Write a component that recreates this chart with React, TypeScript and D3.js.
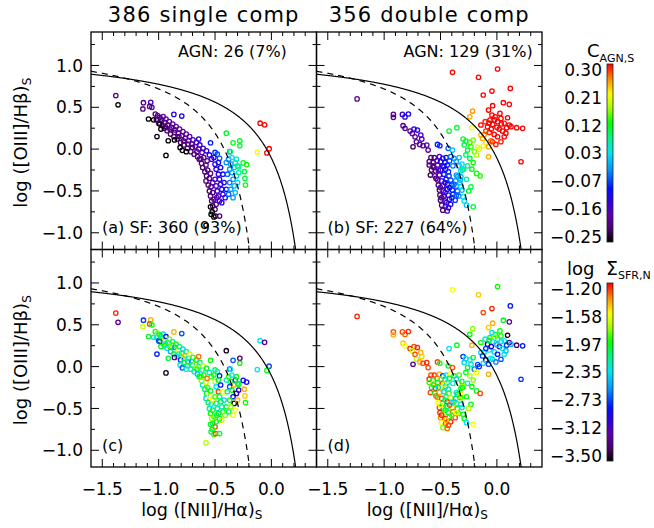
import React from 'react';
import * as d3 from 'd3';

// ---------- axis / label data ----------
const xTicksMajor = [-1.5, -1.0, -0.5, 0.0];
const xTickLabels = ['\u22121.5', '\u22121.0', '\u22120.5', '0.0'];
const yTicksMajor = [-1.0, -0.5, 0.0, 0.5, 1.0];
const yTickLabels = ['\u22121.0', '\u22120.5', '0.0', '0.5', '1.0'];
const cAgnTickLabels = ['0.30', '0.21', '0.12', '0.03', '\u22120.07', '\u22120.16', '\u22120.25'];
const sigmaTickLabels = ['\u22121.20', '\u22121.58', '\u22121.97', '\u22122.35', '\u22122.73', '\u22123.12', '\u22123.50'];
const panelTitles = ['386 single comp', '356 double comp'];
const agnLabels = ['AGN: 26 (7%)', 'AGN: 129 (31%)'];
const sfLabels = ['(a) SF: 360 (93%)', '(b) SF: 227 (64%)'];
const lowerLabels = ['(c)', '(d)'];

// colour table stops (position, colour)
const cmapPos = [0, 0.07, 0.15, 0.23, 0.3, 0.4, 0.5, 0.58, 0.67, 0.75, 0.83, 0.91, 1];
const cmapCol = ['#000000', '#48006c', '#6000aa', '#2c00e8', '#0010ff', '#0090ff', '#00e4f4', '#00f48c', '#00ff00', '#a0ff00', '#ffff00', '#ff9400', '#ff0000'];

// [log([NII]/Ha), log([OIII]/Hb), C_AGN,S, log Sigma_SFR,N]
const singleComp: number[][] = [
  [-1.38, 0.64, -0.19, -1.25], [-1.36, 0.53, -0.25, -3.2], [-1.135, 0.555, -0.19, -2.75],
  [-1.07, 0.56, -0.14, -1.45], [-1.14, 0.48, -0.19, -1.7], [-1.08, 0.51, -0.19, -1.3],
  [-1.06, 0.5, -0.18, -1.95],
  [-1.03, 0.42, -0.19, -2.0], [-1.02, 0.35, -0.21, -2.35], [-1.01, 0.4, -0.18, -1.8],
  [-1.0, 0.31, -0.2, -2.7], [-0.99, 0.38, -0.19, -1.95], [-0.98, 0.36, -0.2, -2.0],
  [-0.975, 0.34, -0.2, -2.2], [-0.965, 0.28, -0.21, -1.7], [-0.96, 0.39, -0.18, -2.4],
  [-0.95, 0.25, -0.2, -2.0], [-0.945, 0.32, -0.19, -1.6], [-0.94, 0.27, -0.2, -2.25],
  [-0.935, 0.36, -0.18, -2.9], [-0.925, 0.22, -0.21, -2.3], [-0.92, 0.29, -0.2, -2.05],
  [-0.905, 0.33, -0.18, -1.85], [-0.9, 0.24, -0.2, -1.9], [-0.895, 0.18, -0.21, -2.5],
  [-0.885, 0.26, -0.19, -1.75], [-0.875, 0.3, -0.18, -2.2], [-0.865, 0.15, -0.21, -2.0],
  [-0.86, 0.2, -0.2, -2.1], [-0.855, 0.23, -0.2, -2.6], [-0.845, 0.27, -0.18, -1.95],
  [-0.835, 0.12, -0.21, -2.3], [-0.825, 0.19, -0.2, -1.6], [-0.82, 0.15, -0.2, -2.3],
  [-0.815, 0.24, -0.17, -2.1], [-0.805, 0.08, -0.21, -2.75], [-0.795, 0.16, -0.19, -1.9],
  [-0.785, 0.21, -0.17, -2.4], [-0.78, 0.1, -0.2, -1.8], [-0.775, 0.05, -0.2, -2.05],
  [-0.765, 0.13, -0.19, -1.45], [-0.755, 0.18, -0.17, -2.2], [-0.745, 0.01, -0.2, -1.95],
  [-0.74, 0.06, -0.2, -2.05], [-0.735, 0.1, -0.19, -2.35], [-0.725, 0.15, -0.16, -1.7],
  [-0.715, -0.03, -0.2, -2.1], [-0.705, 0.06, -0.19, -2.6], [-0.7, 0.02, -0.2, -2.2],
  [-0.695, 0.11, -0.16, -1.9], [-0.685, -0.06, -0.2, -2.3], [-0.675, 0.03, -0.18, -1.55],
  [-0.665, 0.08, -0.15, -2.0], [-0.66, -0.03, -0.2, -1.95], [-0.655, -0.09, -0.2, -2.45],
  [-0.645, 0.0, -0.18, -1.85], [-0.635, 0.05, -0.14, -2.15], [-0.625, -0.12, -0.2, -1.95],
  [-0.615, -0.04, -0.17, -2.3], [-0.605, 0.01, -0.13, -1.7],
  [-1.09, 0.36, -0.25, -2.0], [-1.045, 0.35, -0.25, -2.3], [-0.99, 0.3, -0.25, -2.7],
  [-0.98, 0.24, -0.25, -2.0], [-1.015, 0.15, -0.24, -2.8], [-0.915, 0.1, -0.25, -2.05],
  [-0.86, 0.11, -0.25, -3.2], [-0.81, 0.02, -0.25, -2.3], [-0.79, -0.015, -0.25, -2.7],
  [-0.755, -0.03, -0.25, -2.35], [-0.935, -0.075, -0.25, -3.45],
  [-0.865, 0.415, -0.12, -1.45], [-0.795, 0.395, -0.11, -2.7], [-0.645, 0.12, -0.11, -1.35],
  [-0.54, 0.075, -0.08, -1.95], [-0.5, -0.04, -0.07, -2.1], [-0.48, -0.06, -0.06, -2.3],
  [-0.46, -0.11, -0.05, -2.8], [-0.37, -0.03, -0.04, -2.8],
  [-0.64, -0.12, -0.2, -2.0], [-0.62, -0.17, -0.2, -1.8], [-0.61, -0.22, -0.21, -2.3],
  [-0.6, -0.1, -0.18, -1.95], [-0.59, -0.27, -0.2, -2.1], [-0.58, -0.19, -0.19, -1.7],
  [-0.575, -0.32, -0.21, -2.0], [-0.58, -0.38, -0.2, -2.4], [-0.565, -0.25, -0.19, -1.9],
  [-0.56, -0.43, -0.21, -2.05], [-0.55, -0.35, -0.2, -1.6], [-0.55, -0.5, -0.21, -2.2],
  [-0.54, -0.56, -0.2, -1.95], [-0.535, -0.45, -0.19, -2.35], [-0.53, -0.62, -0.21, -1.75],
  [-0.52, -0.52, -0.2, -2.0], [-0.52, -0.68, -0.21, -2.25], [-0.51, -0.6, -0.19, -1.85],
  [-0.5, -0.72, -0.2, -1.3], [-0.49, -0.66, -0.19, -2.0], [-0.485, -0.58, -0.17, -2.1],
  [-0.54, -0.29, -0.18, -2.0], [-0.52, -0.4, -0.17, -1.55], [-0.57, -0.14, -0.19, -1.35],
  [-0.575, -0.02, -0.13, -2.0], [-0.55, -0.07, -0.12, -2.3], [-0.53, -0.12, -0.13, -1.9],
  [-0.51, -0.1, -0.11, -2.05], [-0.5, -0.18, -0.12, -1.7], [-0.49, -0.24, -0.13, -2.35],
  [-0.47, -0.16, -0.1, -2.0], [-0.47, -0.3, -0.12, -1.3], [-0.46, -0.36, -0.13, -2.1],
  [-0.45, -0.22, -0.1, -2.8], [-0.45, -0.42, -0.12, -1.95], [-0.44, -0.48, -0.11, -2.2],
  [-0.43, -0.3, -0.09, -1.6], [-0.43, -0.54, -0.12, -2.0], [-0.42, -0.4, -0.1, -2.4],
  [-0.41, -0.58, -0.11, -1.8], [-0.4, -0.48, -0.09, -2.05], [-0.46, -0.62, -0.13, -1.95],
  [-0.48, -0.5, -0.14, -2.3], [-0.5, -0.36, -0.14, -1.9], [-0.44, -0.64, -0.12, -1.7],
  [-0.47, -0.56, -0.15, -2.0], [-0.49, -0.44, -0.15, -2.15],
  [-0.4, -0.16, -0.03, -2.3], [-0.38, -0.12, -0.04, -1.9], [-0.36, -0.18, -0.02, -2.05],
  [-0.37, -0.24, -0.03, -2.7], [-0.35, -0.28, -0.01, -2.0], [-0.39, -0.3, -0.05, -2.2],
  [-0.34, -0.36, -0.02, -2.85], [-0.37, -0.4, -0.04, -1.95], [-0.33, -0.44, -0.01, -3.45],
  [-0.36, -0.48, -0.03, -1.8], [-0.32, -0.52, 0.0, -1.6], [-0.34, -0.58, -0.02, -1.65],
  [-0.38, -0.54, -0.05, -2.1], [-0.31, -0.32, 0.01, -2.9], [-0.33, -0.22, 0.0, -1.45],
  [-0.3, -0.4, 0.02, -1.45], [-0.32, -0.16, 0.04, -2.7], [-0.3, -0.2, 0.05, -2.1],
  [-0.29, -0.28, 0.06, -3.0], [-0.31, -0.12, 0.05, -1.95], [-0.35, -0.1, 0.03, -2.35],
  [-0.4, 0.19, 0.1, -3.45], [-0.34, 0.075, 0.11, -2.7], [-0.28, 0.1, 0.11, -3.3],
  [-0.28, 0.04, 0.1, -1.95], [-0.365, -0.03, 0.08, -2.35], [-0.25, -0.165, 0.11, -2.85],
  [-0.22, -0.185, 0.12, -2.9], [-0.24, -0.27, 0.1, -1.45], [-0.235, -0.35, 0.1, -1.5],
  [-0.23, -0.43, 0.11, -1.95], [-0.29, -0.21, 0.07, -2.0],
  [-0.125, -0.035, 0.2, -2.35], [-0.1, 0.31, 0.3, -2.3], [-0.06, 0.29, 0.3, -3.2],
  [-0.02, 0.005, 0.3, -2.7], [-0.04, -0.045, 0.3, -2.0],
  [-0.54, -0.69, -0.25, -2.0], [-0.525, -0.75, -0.25, -1.95], [-0.535, -0.78, -0.25, -2.1],
  [-0.51, -0.81, -0.25, -1.9], [-0.495, -0.8, -0.24, -1.3], [-0.58, -0.91, -0.25, -1.75],
  [-0.46, -0.8, -0.19, -2.05],
];

const doubleComp: number[][] = [
  [-1.24, 0.6, -0.18, -1.25],
  [-0.918, 0.415, -0.19, -1.3], [-0.918, 0.38, -0.19, -1.45], [-0.838, 0.415, -0.13, -1.3],
  [-0.815, 0.385, -0.12, -1.35], [-0.785, 0.42, -0.11, -1.25],
  [-0.832, 0.28, -0.19, -1.5], [-0.815, 0.248, -0.19, -1.6], [-0.77, 0.216, -0.18, -1.25],
  [-0.735, 0.24, -0.12, -1.3], [-0.705, 0.228, -0.11, -1.25], [-0.75, 0.188, -0.17, -1.7],
  [-0.726, 0.148, -0.18, -1.3], [-0.675, 0.168, -0.15, -1.45], [-0.666, 0.12, -0.16, -1.5],
  [-0.744, 0.028, -0.22, -3.2], [-0.714, 0.088, -0.18, -1.75], [-0.684, 0.056, -0.19, -1.45],
  [-0.655, 0.04, -0.18, -1.3], [-0.622, 0.048, -0.17, -1.25], [-0.61, -0.011, -0.19, -1.3],
  [-0.527, 0.056, -0.08, -1.3], [-0.506, 0.04, -0.08, -1.95], [-0.432, 0.009, -0.05, -2.0],
  [-0.424, 0.216, 0.1, -2.35], [-0.355, 0.256, 0.1, -2.0], [-0.394, -0.011, 0.0, -1.3],
  [-0.222, 0.256, 0.2, -1.45], [-0.24, 0.387, 0.24, -1.95], [-0.216, 0.455, 0.25, -1.8],
  [-0.585, -0.1, -0.21, -1.3], [-0.555, -0.1, -0.2, -1.25], [-0.51, -0.09, -0.14, -1.45],
  [-0.48, -0.11, -0.11, -2.75], [-0.45, -0.1, -0.09, -2.35], [-0.41, -0.09, -0.05, -1.6],
  [-0.38, -0.11, -0.03, -2.0], [-0.335, -0.1, 0.0, -1.9],
  [-0.6, -0.15, -0.2, -1.25], [-0.565, -0.16, -0.19, -2.1], [-0.53, -0.14, -0.16, -1.35],
  [-0.5, -0.15, -0.12, -1.8], [-0.46, -0.16, -0.1, -2.3], [-0.42, -0.14, -0.06, -1.95],
  [-0.36, -0.15, -0.02, -2.4],
  [-0.6, -0.19, -0.21, -1.9], [-0.565, -0.2, -0.19, -1.5], [-0.525, -0.19, -0.15, -2.0],
  [-0.48, -0.2, -0.11, -1.3], [-0.44, -0.19, -0.08, -2.2], [-0.335, -0.2, 0.0, -1.75],
  [-0.31, -0.18, 0.02, -2.0],
  [-0.58, -0.25, -0.21, -2.1], [-0.545, -0.26, -0.18, -1.25], [-0.5, -0.25, -0.12, -1.6],
  [-0.455, -0.24, -0.09, -2.35], [-0.32, -0.26, 0.01, -2.05], [-0.295, -0.24, 0.03, -1.7],
  [-0.59, -0.31, -0.22, -1.3], [-0.55, -0.32, -0.19, -2.0], [-0.51, -0.31, -0.14, -1.45],
  [-0.47, -0.3, -0.1, -2.4], [-0.425, -0.32, -0.07, -1.9], [-0.36, -0.31, -0.02, -2.3],
  [-0.32, -0.33, 0.0, -1.55],
  [-0.525, -0.37, -0.19, -1.95], [-0.49, -0.38, -0.13, -1.3], [-0.45, -0.36, -0.1, -2.1],
  [-0.41, -0.37, -0.06, -1.75], [-0.365, -0.38, -0.03, -2.5], [-0.325, -0.37, -0.01, -1.95],
  [-0.52, -0.43, -0.2, -1.6], [-0.48, -0.44, -0.14, -2.0], [-0.44, -0.42, -0.1, -1.25],
  [-0.4, -0.43, -0.07, -2.3], [-0.36, -0.44, -0.04, -1.85],
  [-0.51, -0.49, -0.2, -1.3], [-0.475, -0.5, -0.15, -1.95], [-0.44, -0.48, -0.11, -2.2],
  [-0.395, -0.49, -0.08, -1.5], [-0.35, -0.5, -0.05, -2.0], [-0.31, -0.49, -0.01, -2.35],
  [-0.505, -0.55, -0.21, -1.25], [-0.47, -0.56, -0.16, -1.7], [-0.43, -0.55, -0.11, -2.05],
  [-0.39, -0.54, -0.08, -1.35], [-0.34, -0.56, -0.05, -1.9],
  [-0.5, -0.61, -0.21, -1.4], [-0.46, -0.62, -0.16, -1.25], [-0.42, -0.6, -0.11, -2.0],
  [-0.37, -0.61, -0.07, -1.3],
  [-0.49, -0.67, -0.2, -1.6], [-0.455, -0.68, -0.15, -1.3], [-0.41, -0.66, -0.11, -1.25],
  [-0.48, -0.73, -0.2, -1.8], [-0.44, -0.74, -0.16, -1.35],
  [-0.56, -0.22, -0.2, -1.95], [-0.54, -0.35, -0.2, -1.35], [-0.5, -0.46, -0.18, -1.6],
  [-0.46, -0.52, -0.13, -2.0], [-0.42, -0.46, -0.09, -1.3], [-0.46, -0.4, -0.12, -2.1],
  [-0.49, -0.58, -0.19, -1.25], [-0.45, -0.64, -0.13, -1.5], [-0.43, -0.7, -0.12, -1.3],
  [-0.52, -0.25, -0.17, -2.4], [-0.47, -0.21, -0.11, -1.7], [-0.43, -0.27, -0.07, -2.2],
  [-0.39, -0.2, -0.04, -2.3], [-0.35, -0.33, -0.02, -2.0], [-0.33, -0.4, 0.0, -1.8],
  [-0.38, -0.42, -0.05, -2.4], [-0.4, -0.58, -0.08, -1.9], [-0.36, -0.55, -0.05, -1.6],
  [-0.29, -0.62, 0.02, -1.95], [-0.27, -0.67, 0.01, -2.35], [-0.21, -0.69, 0.1, -1.6],
  [-0.3, -0.57, 0.03, -2.0],
  [-0.3, 0.12, 0.1, -2.75], [-0.275, 0.096, 0.11, -2.3], [-0.24, 0.08, 0.13, -2.35],
  [-0.21, 0.108, 0.15, -2.0], [-0.29, 0.05, 0.09, -2.4], [-0.26, -0.011, 0.1, -1.95],
  [-0.23, 0.028, 0.13, -2.3], [-0.2, -0.03, 0.15, -2.6], [-0.275, -0.07, 0.08, -2.0],
  [-0.24, -0.11, 0.1, -1.75], [-0.21, -0.16, 0.12, -1.8], [-0.18, -0.07, 0.17, -1.6],
  [-0.17, 0.025, 0.19, -2.7], [-0.26, -0.2, 0.08, -2.35], [-0.222, -0.24, 0.11, -1.95],
  [-0.18, -0.29, 0.12, -2.0], [-0.148, -0.32, 0.13, -1.3], [-0.305, -0.25, 0.07, -2.0],
  [-0.27, -0.36, 0.06, -1.95], [-0.23, -0.45, 0.1, -2.0], [-0.25, -0.5, 0.1, -1.75],
  [-0.32, -0.45, 0.02, -2.35],
  [-0.142, 0.168, 0.24, -2.4], [-0.112, 0.176, 0.25, -2.35], [-0.127, 0.128, 0.24, -2.7],
  [-0.098, 0.08, 0.22, -3.45], [-0.121, 0.04, 0.2, -2.35], [-0.157, 0.0, 0.19, -2.75],
  [-0.074, 0.028, 0.24, -2.7], [-0.053, 0.1, 0.27, -2.35], [-0.074, -0.091, 0.24, -1.45],
  [-0.142, 0.288, 0.3, -1.95], [-0.104, 0.328, 0.29, -2.35], [-0.083, 0.268, 0.3, -3.4],
  [-0.062, 0.348, 0.3, -1.95], [-0.038, 0.296, 0.3, -2.35], [-0.015, 0.387, 0.3, -2.0],
  [0.006, 0.328, 0.3, -2.4], [0.036, 0.367, 0.3, -1.95], [0.065, 0.308, 0.29, -2.35],
  [0.095, 0.375, 0.3, -3.45], [0.021, 0.24, 0.3, -3.2], [0.05, 0.216, 0.3, -2.35],
  [0.086, 0.256, 0.3, -2.75], [0.11, 0.288, 0.3, -3.3], [-0.024, 0.176, 0.3, -2.4],
  [0.006, 0.148, 0.3, -2.8], [0.036, 0.088, 0.29, -2.7], [-0.038, 0.088, 0.28, -2.35],
  [-0.009, 0.056, 0.29, -2.6], [-0.068, 0.2, 0.29, -2.3], [-0.098, 0.216, 0.28, -2.75],
  [0.065, 0.148, 0.3, -2.3], [0.125, 0.268, 0.3, -2.5], [-0.044, 0.407, 0.3, -2.35],
  [0.027, 0.427, 0.3, -1.95], [-0.07, 0.31, 0.3, -2.05], [0.0, 0.26, 0.3, -2.5],
  [0.04, 0.3, 0.3, -2.35], [-0.02, 0.35, 0.3, -1.8], [0.08, 0.19, 0.3, -2.45],
  [-0.05, 0.24, 0.3, -2.9], [0.175, 0.256, 0.3, -3.3], [0.228, 0.248, 0.3, -2.8],
  [-0.394, 0.918, 0.3, -1.6], [-0.163, 0.858, 0.3, -1.5], [0.006, 0.958, 0.3, -1.95],
  [-0.121, 0.647, 0.3, -1.3], [-0.044, 0.694, 0.3, -1.25], [0.119, 0.726, 0.3, -2.8],
  [-0.038, 0.519, 0.3, -1.45], [-0.074, 0.467, 0.3, -1.5], [0.057, 0.555, 0.3, -2.0],
  [0.11, 0.535, 0.3, -3.2], [0.214, -0.151, 0.3, -2.75],
];

const FONT = 'DejaVu Sans, sans-serif';

export default function App() {
  const W = 654, H = 528;
  const PL = 91, PT = 32, PW = 225.5, PH = 217.5;
  const xDomain: [number, number] = [-1.6, 0.4];
  const yDomain: [number, number] = [-1.2, 1.4];
  const cAgnDomain: [number, number] = [-0.25, 0.3];
  const sigmaDomain: [number, number] = [-3.5, -1.2];

  const cmap = d3.scaleLinear<string>().domain(cmapPos).range(cmapCol).interpolate(d3.interpolateRgb).clamp(true);
  const cNorm = d3.scaleLinear().domain(cAgnDomain).range([0, 1]).clamp(true);
  const sNorm = d3.scaleLinear().domain(sigmaDomain).range([0, 1]).clamp(true);

  const panels = [
    { col: 0, row: 0, data: singleComp, ci: 2, norm: cNorm },
    { col: 1, row: 0, data: doubleComp, ci: 2, norm: cNorm },
    { col: 0, row: 1, data: singleComp, ci: 3, norm: sNorm },
    { col: 1, row: 1, data: doubleComp, ci: 3, norm: sNorm },
  ];

  const kewX = d3.range(-1.6, 0.26, 0.003);
  const kauX = d3.range(-1.6, -0.14, 0.003);
  const kew = (x: number) => 0.61 / (x - 0.47) + 1.19;
  const kau = (x: number) => 0.61 / (x - 0.05) + 1.3;

  const xMinor = d3.range(-15, 4).map((i) => ({ v: i / 10, major: i % 5 === 0 }));
  const yMinor = d3.range(-4, 6).map((i) => ({ v: i * 0.25, major: i % 2 === 0 }));
  const majLen = 8, minLen = 4;

  const bars = [
    { top: 64, bottom: 242, labels: cAgnTickLabels },
    { top: 283, bottom: 461, labels: sigmaTickLabels },
  ];
  const barX = 607, barW = 6;
  const gradStops = d3.range(0, 1.0001, 0.02);

  return (
    <svg width={W} height={H} style={{ position: 'absolute', left: 0, top: 0, background: '#fff' }} fontFamily={FONT}>
      <defs>
        <linearGradient id="cbar" x1="0" y1="1" x2="0" y2="0">
          {gradStops.map((t, i) => (
            <stop key={i} offset={t} stopColor={cmap(t)} />
          ))}
        </linearGradient>
        {panels.map((p, i) => (
          <clipPath id={`clip${i}`} key={i}>
            <rect x={PL + p.col * PW} y={PT + p.row * PH} width={PW} height={PH} />
          </clipPath>
        ))}
      </defs>

      {panels.map((p, i) => {
        const left = PL + p.col * PW;
        const top = PT + p.row * PH;
        const xs = d3.scaleLinear().domain(xDomain).range([left, left + PW]);
        const ys = d3.scaleLinear().domain(yDomain).range([top + PH, top]);
        const kewPath = d3.line<number>().x((x) => xs(x)).y((x) => ys(kew(x)))(kewX) || '';
        const kauPath = d3.line<number>().x((x) => xs(x)).y((x) => ys(kau(x)))(kauX) || '';
        return (
          <g key={i}>
            <g clipPath={`url(#clip${i})`}>
              {p.data.map((d, j) => (
                <circle key={j} cx={xs(d[0])} cy={ys(d[1])} r={2.2} fill="none"
                  stroke={cmap(p.norm(d[p.ci]))} strokeWidth={1.3} />
              ))}
              <path d={kewPath} fill="none" stroke="#000" strokeWidth={1.2} />
              <path d={kauPath} fill="none" stroke="#000" strokeWidth={1.2} strokeDasharray="6,5" />
            </g>
            <rect x={left} y={top} width={PW} height={PH} fill="none" stroke="#000" strokeWidth={1.3} />
            {xMinor.map((t, k) => {
              const len = t.major ? majLen : minLen;
              const x = xs(t.v);
              return (
                <g key={`x${k}`} stroke="#000" strokeWidth={1}>
                  <line x1={x} x2={x} y1={top + PH} y2={top + PH - len} />
                  <line x1={x} x2={x} y1={top} y2={top + len} />
                </g>
              );
            })}
            {yMinor.map((t, k) => {
              const len = t.major ? majLen : minLen;
              const y = ys(t.v);
              return (
                <g key={`y${k}`} stroke="#000" strokeWidth={1}>
                  <line x1={left} x2={left + len} y1={y} y2={y} />
                  <line x1={left + PW} x2={left + PW - len} y1={y} y2={y} />
                </g>
              );
            })}
            {p.col === 0 && yTicksMajor.map((v, k) => (
              <text key={`yl${k}`} x={left - 8} y={ys(v) + 6.2} fontSize={17} textAnchor="end" fill="#000">{yTickLabels[k]}</text>
            ))}
            {p.row === 1 && xTicksMajor.map((v, k) => (
              <text key={`xl${k}`} x={xs(v)} y={495} fontSize={17} textAnchor="middle" fill="#000">{xTickLabels[k]}</text>
            ))}
            {p.row === 0 && (
              <>
                <text x={left + 87} y={57} fontSize={16} fill="#000">{agnLabels[p.col]}</text>
                <text x={left + 11} y={233} fontSize={16} fill="#000">{sfLabels[p.col]}</text>
                <text x={left + PW / 2} y={21.5} fontSize={21} letterSpacing={1.2} textAnchor="middle" fill="#000">{panelTitles[p.col]}</text>
              </>
            )}
            {p.row === 1 && (
              <text x={left + 11} y={451} fontSize={16} fill="#000">{lowerLabels[p.col]}</text>
            )}
            {p.row === 1 && (
              <text x={left + PW / 2 - 2} y={516} fontSize={17.5} textAnchor="middle" fill="#000">
                log ([NII]/H{'\u03b1'})<tspan fontSize={12} dy={3}>S</tspan>
              </text>
            )}
            {p.col === 0 && (
              <text transform={`translate(27, ${top + PH / 2 + 2}) rotate(-90)`} fontSize={18} textAnchor="middle" fill="#000">
                log ([OIII]/H{'\u03b2'})<tspan fontSize={12} dy={4}>S</tspan>
              </text>
            )}
          </g>
        );
      })}

      {bars.map((b, i) => {
        const ls = d3.scaleLinear().domain([0, b.labels.length - 1]).range([b.top + 5.5, b.bottom - 5]);
        return (
          <g key={`bar${i}`}>
            <rect x={barX} y={b.top} width={barW} height={b.bottom - b.top} fill="url(#cbar)" stroke="#222" strokeWidth={0.8} />
            {b.labels.map((l, k) => (
              <text key={k} x={602} y={ls(k) + 6.2} fontSize={17} textAnchor="end" fill="#000">{l}</text>
            ))}
          </g>
        );
      })}
      <text x={587} y={57} fontSize={18} fill="#000">C<tspan fontSize={11} dy={5}>AGN,S</tspan></text>
      <text x={567} y={275} fontSize={18} fill="#000">log</text>
      <text x={606} y={275} fontSize={19} fill="#000">{'\u03a3'}<tspan fontSize={11} dy={4}>SFR,N</tspan></text>
    </svg>
  );
}
